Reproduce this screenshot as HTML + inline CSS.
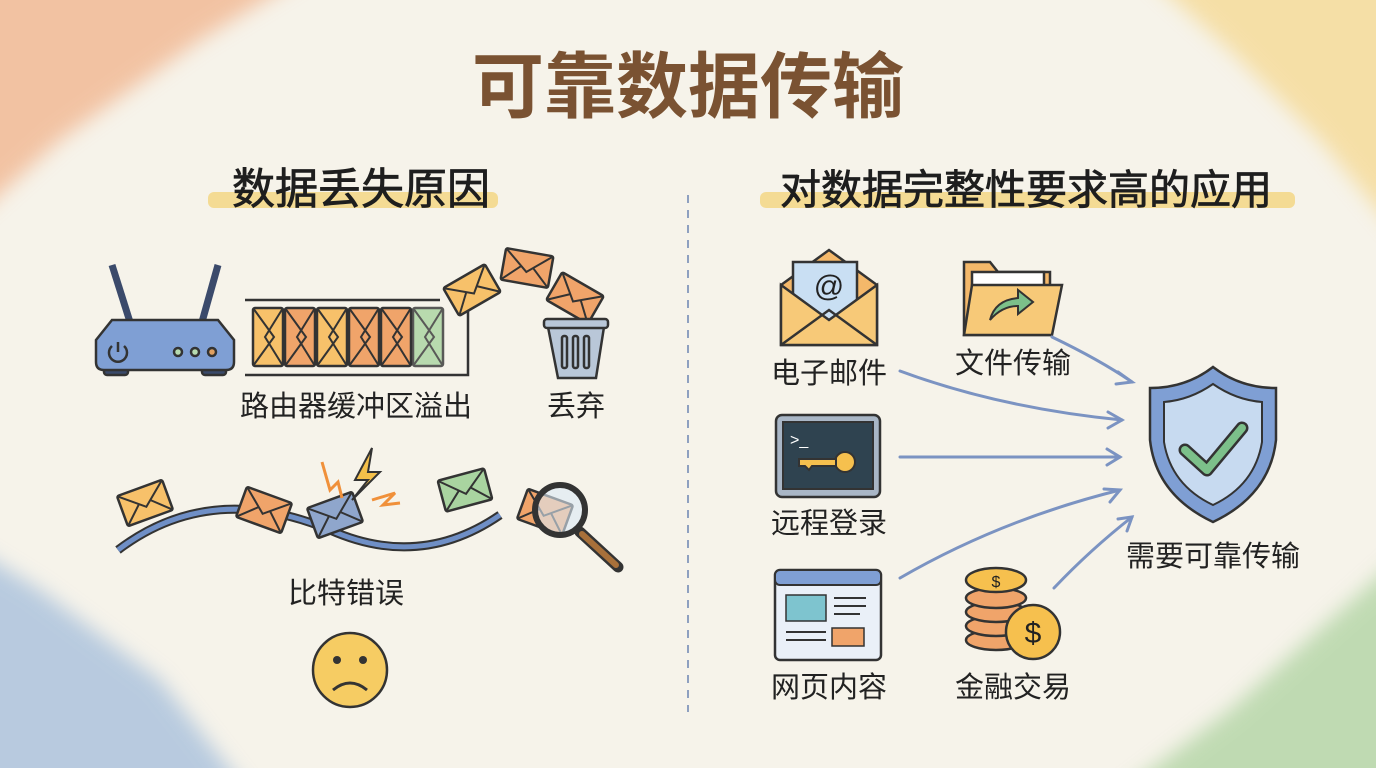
<!DOCTYPE html>
<html><head><meta charset="utf-8"><style>
html,body{margin:0;padding:0;width:1376px;height:768px;overflow:hidden;background:#f6f3ea}
svg{display:block;position:absolute;left:0;top:0}
text{font-family:"Liberation Sans","Noto Sans CJK SC",sans-serif;fill:#222}
</style></head><body>
<svg width="1376" height="768" viewBox="0 0 1376 768" xmlns="http://www.w3.org/2000/svg">
<defs>
<filter id="bl" x="-20%" y="-20%" width="140%" height="140%"><feGaussianBlur stdDeviation="10"/></filter>
<g id="env">
<rect x="-24" y="-16" width="48" height="32" rx="2" stroke="#333" stroke-width="2.5"/>
<path d="M-24,-16 L0,4 L24,-16 M-24,16 L-6,-1 M24,16 L6,-1" fill="none" stroke="#333" stroke-width="2"/>
</g>
<g id="venv">
<rect x="-15" y="-29" width="30" height="58" rx="2" stroke="#333" stroke-width="2.5"/>
<path d="M-15,-29 L6,0 L-15,29 M15,-29 L-3,0 L15,29" fill="none" stroke="#333" stroke-width="2"/>
</g>
</defs>
<g filter="url(#bl)" opacity="0.6">
<path d="M-40,-40 L330,-40 L200,40 L60,140 L-40,230 Z" fill="#f0a373"/>
<path d="M1130,-40 L1420,-40 L1420,260 L1320,140 L1230,50 Z" fill="#f5d27a"/>
<path d="M-40,540 L40,590 L160,680 L260,808 L-40,808 Z" fill="#8fb0d8"/>
<path d="M1420,540 L1420,808 L1100,808 L1230,710 L1330,620 Z" fill="#9ccb8e"/>
</g>
<text x="688" y="112" font-size="72" font-weight="bold" text-anchor="middle" style="fill:#7a5232">可靠数据传输</text>
<rect x="208" y="192" width="290" height="16" rx="6" fill="#f4d57e" opacity="0.8"/>
<text x="361" y="204" font-size="43" text-anchor="middle" style="fill:#1e1e1e;stroke:#1e1e1e;stroke-width:0.8">数据丢失原因</text>
<rect x="760" y="192" width="535" height="16" rx="6" fill="#f4d57e" opacity="0.8"/>
<text x="1026" y="204" font-size="41" text-anchor="middle" style="fill:#1e1e1e;stroke:#1e1e1e;stroke-width:0.8">对数据完整性要求高的应用</text>
<line x1="688" y1="195" x2="688" y2="712" stroke="#8ea0c0" stroke-width="2" stroke-dasharray="8,7"/>

<g stroke="#333" stroke-width="2.5">
<line x1="112" y1="265" x2="130" y2="322" stroke-width="7" stroke="#3b4a6b"/>
<line x1="218" y1="265" x2="202" y2="322" stroke-width="7" stroke="#3b4a6b"/>
<rect x="104" y="365" width="24" height="10" rx="3" fill="#3b4a6b"/>
<rect x="202" y="365" width="24" height="10" rx="3" fill="#3b4a6b"/>
<path d="M96,340 L112,320 L218,320 L234,340 L234,362 Q234,370 226,370 L104,370 Q96,370 96,362 Z" fill="#7f9fd4"/>
<circle cx="178" cy="352" r="4" fill="#b7dbb0"/><circle cx="195" cy="352" r="4" fill="#b7dbb0"/><circle cx="212" cy="352" r="4" fill="#e0a060"/>
<path d="M112,346 A9,9 0 1 0 124,346 M118,342 L118,352" fill="none"/>
</g>
<path d="M245,300 L440,300 M245,375 L468,375 L468,307" stroke="#333" stroke-width="2.5" fill="none"/>
<use href="#venv" x="268" y="337" fill="#f7c16a"/>
<use href="#venv" x="300" y="337" fill="#f0a46a"/>
<use href="#venv" x="332" y="337" fill="#f7c16a"/>
<use href="#venv" x="364" y="337" fill="#f0a46a"/>
<use href="#venv" x="396" y="337" fill="#f0a46a"/>
<use href="#venv" x="428" y="337" fill="#a9d4a0" opacity="0.8"/>
<use href="#env" transform="translate(472,290) rotate(-30)" fill="#f7c16a"/>
<use href="#env" transform="translate(527,268) rotate(10)" fill="#f0a46a"/>
<use href="#env" transform="translate(575,298) rotate(30)" fill="#f0a46a"/>
<g stroke="#333" stroke-width="2.5">
<path d="M548,327 L558,378 L596,378 L604,327 Z" fill="#b9c7d8"/>
<rect x="544" y="319" width="64" height="9" rx="3" fill="#b9c7d8"/>
<rect x="562" y="336" width="5" height="32" rx="2" fill="none"/><rect x="573" y="336" width="5" height="32" rx="2" fill="none"/><rect x="584" y="336" width="5" height="32" rx="2" fill="none"/>
</g>
<text x="356" y="416" font-size="29" text-anchor="middle">路由器缓冲区溢出</text>
<text x="576" y="416" font-size="29" text-anchor="middle">丢弃</text>
<path d="M118,550 Q210,480 330,530 Q420,570 500,515" fill="none" stroke="#333" stroke-width="9"/>
<path d="M118,550 Q210,480 330,530 Q420,570 500,515" fill="none" stroke="#6f8fc6" stroke-width="5"/>
<use href="#env" transform="translate(145,503) rotate(-20)" fill="#f7c16a"/>
<use href="#env" transform="translate(264,510) rotate(20)" fill="#f0a46a"/>
<use href="#env" transform="translate(335,515) rotate(-20)" fill="#8fa6cc"/>
<use href="#env" transform="translate(465,490) rotate(-15)" fill="#a9d4a0"/>
<use href="#env" transform="translate(545,512) rotate(20)" fill="#f0a46a"/>
<path d="M372,448 L355,480 L368,480 L352,500 L380,472 L368,472 Z" fill="#f5c04a" stroke="#333" stroke-width="2"/>
<path d="M322,462 L330,490 L338,482 L342,498" fill="none" stroke="#f0903a" stroke-width="3"/>
<path d="M372,500 L395,493 L383,505 L400,503" fill="none" stroke="#f0903a" stroke-width="3"/>
<circle cx="560" cy="510" r="25" fill="#dceaf5" fill-opacity="0.6" stroke="#333" stroke-width="6"/>
<line x1="580" y1="532" x2="618" y2="567" stroke="#333" stroke-width="11" stroke-linecap="round"/>
<line x1="582" y1="534" x2="616" y2="565" stroke="#a8703a" stroke-width="6" stroke-linecap="round"/>
<text x="346" y="603" font-size="29" text-anchor="middle">比特错误</text>
<circle cx="350" cy="670" r="37" fill="#f6cc63" stroke="#333" stroke-width="2.5"/>
<circle cx="337" cy="660" r="4" fill="#333"/><circle cx="363" cy="660" r="4" fill="#333"/>
<path d="M333,690 Q350,676 367,690" fill="none" stroke="#333" stroke-width="3"/>

<g stroke="#333" stroke-width="2.5">
<path d="M781,285 L829,250 L877,285 L877,345 L781,345 Z" fill="#f4b86a"/>
<rect x="793" y="262" width="64" height="62" fill="#c9dff3"/>
<path d="M781,285 L829,320 L877,285 L877,345 L781,345 Z" fill="#f7c978"/>
<path d="M781,345 L829,310 L877,345" fill="none"/>
</g>
<text x="829" y="296" font-size="30" text-anchor="middle">@</text>
<text x="829" y="383" font-size="29" text-anchor="middle">电子邮件</text>
<g stroke="#333" stroke-width="2.5">
<path d="M964,262 L990,262 L998,272 L1050,272 L1050,335 L964,335 Z" fill="#f4b86a"/>
<rect x="972" y="272" width="72" height="40" fill="#fff"/>
<path d="M972,285 L1062,285 L1052,335 L964,335 Z" fill="#f7c978"/>
</g>
<path d="M990,320 Q995,300 1018,298 L1018,290 L1033,302 L1018,314 L1018,306 Q1002,306 990,320 Z" fill="#7cc08a" stroke="#333" stroke-width="2"/>
<text x="1013" y="373" font-size="29" text-anchor="middle">文件传输</text>
<rect x="776" y="415" width="104" height="82" rx="6" fill="#a9b6c6" stroke="#333" stroke-width="2.5"/>
<rect x="783" y="422" width="90" height="67" fill="#2f4350" stroke="#333" stroke-width="2"/>
<text x="790" y="445" font-size="16" style="fill:#fff">&gt;_</text>
<circle cx="845" cy="462" r="10" fill="#f6c04e" stroke="#333" stroke-width="2"/>
<path d="M799,459 L836,459 L836,466 L812,466 L809,470 L805,466 L799,466 Z" fill="#f6c04e" stroke="#333" stroke-width="2"/>
<text x="829" y="533" font-size="29" text-anchor="middle">远程登录</text>
<rect x="775" y="570" width="106" height="90" rx="5" fill="#eaf0f8" stroke="#333" stroke-width="2.5"/>
<rect x="775" y="570" width="106" height="15" rx="5" fill="#7f9fd4" stroke="#333" stroke-width="2"/>
<rect x="786" y="595" width="40" height="26" fill="#7ec4cf" stroke="#333" stroke-width="1.5"/>
<rect x="832" y="628" width="32" height="18" fill="#f0a46a" stroke="#333" stroke-width="1.5"/>
<path d="M834,598 H866 M834,606 H866 M834,614 H860 M786,632 H826 M786,640 H826" stroke="#333" stroke-width="2"/>
<text x="829" y="697" font-size="29" text-anchor="middle">网页内容</text>
<g stroke="#333" stroke-width="2.5" fill="#f0a46a">
<ellipse cx="996" cy="640" rx="30" ry="10"/><ellipse cx="996" cy="626" rx="30" ry="10"/><ellipse cx="996" cy="612" rx="30" ry="10"/><ellipse cx="996" cy="598" rx="30" ry="10"/>
<ellipse cx="996" cy="580" rx="30" ry="12" fill="#f6c04e"/>
<circle cx="1033" cy="632" r="27" fill="#f6c04e"/>
</g>
<text x="1033" y="643" font-size="30" text-anchor="middle">$</text>
<text x="996" y="587" font-size="16" text-anchor="middle">$</text>
<text x="1013" y="697" font-size="29" text-anchor="middle">金融交易</text>
<path d="M1213,367 Q1240,388 1276,388 L1276,440 Q1270,495 1213,522 Q1156,495 1150,440 L1150,388 Q1186,388 1213,367 Z" fill="#7f9fd4" stroke="#333" stroke-width="2.5"/>
<path d="M1213,384 Q1236,400 1262,402 L1262,442 Q1255,485 1213,505 Q1171,485 1164,442 L1164,402 Q1190,400 1213,384 Z" fill="#c7daf0" stroke="#333" stroke-width="2"/>
<path d="M1185,450 L1207,470 L1242,428" fill="none" stroke="#333" stroke-width="13" stroke-linecap="round" stroke-linejoin="round"/>
<path d="M1185,450 L1207,470 L1242,428" fill="none" stroke="#7cc08a" stroke-width="8" stroke-linecap="round" stroke-linejoin="round"/>
<text x="1213" y="566" font-size="29" text-anchor="middle">需要可靠传输</text>
<g stroke="#7b93c2" stroke-width="3" fill="none" stroke-linecap="round">
<path d="M1052,337 Q1100,360 1132,382"/><path d="M1118,372 L1132,382 L1116,384"/>
<path d="M900,371 Q1000,408 1122,420"/><path d="M1108,412 L1122,420 L1108,428"/>
<path d="M900,457 L1120,457"/><path d="M1107,449 L1120,457 L1107,465"/>
<path d="M900,578 Q1000,520 1120,490"/><path d="M1104,489 L1120,490 L1110,502"/>
<path d="M1054,588 Q1090,550 1132,517"/><path d="M1118,519 L1132,517 L1127,531"/>
</g>
</svg>
</body></html>
